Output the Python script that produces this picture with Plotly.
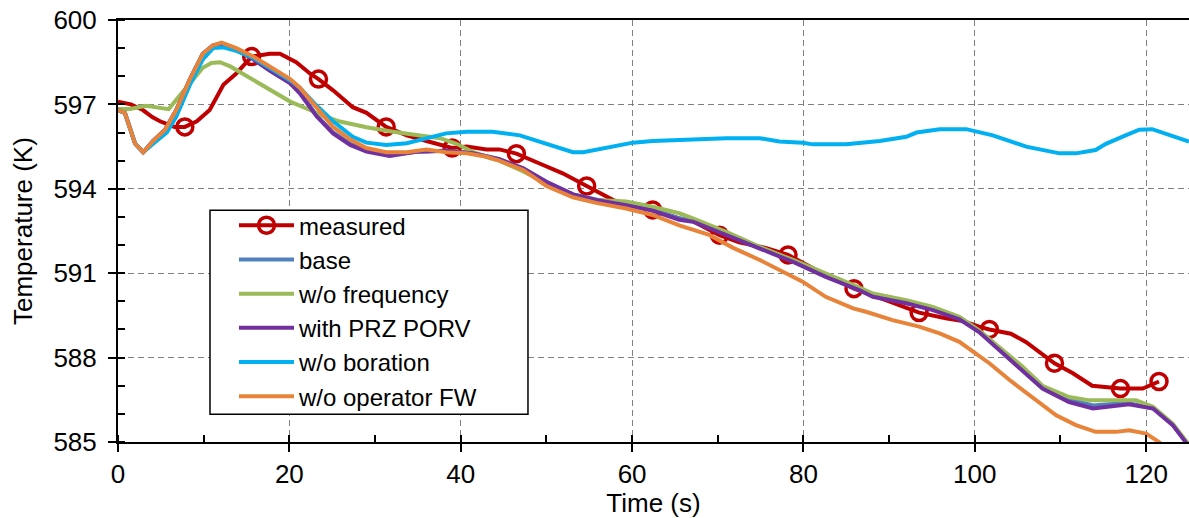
import plotly.graph_objects as go

# ---------------- data ----------------
meas_t = [0, 1.5, 2.9, 4.0, 4.9, 6.6, 7.8, 9.2, 10.7, 12.3, 13.8, 15.6, 17.7, 18.9, 20.8, 22.4,
          23.4, 25.1, 27.4, 29.0, 31.3, 33.7, 36.0, 38.3, 39.0, 40.7, 43.0, 44.5, 46.5, 49.2,
          51.9, 54.7, 57.8, 60.1, 62.4, 65.5, 67.1, 70.2, 72.5, 75.6, 78.2, 81.9, 85.9, 90.0,
          93.5, 96.6, 98.6, 100.5, 101.7, 104.2, 106.0, 109.3, 111.4, 113.7, 117.0, 119.6, 121.5]
meas_T = [597.1, 597.0, 596.8, 596.55, 596.4, 596.2, 596.2, 596.4, 596.8, 597.7, 598.1, 598.7,
          598.8, 598.8, 598.5, 598.1, 597.9, 597.5, 596.9, 596.7, 596.2, 595.9, 595.7, 595.5,
          595.45, 595.5, 595.4, 595.4, 595.25, 594.9, 594.55, 594.1, 593.6, 593.4, 593.25,
          592.95, 592.85, 592.35, 592.1, 591.9, 591.65, 591.05, 590.45, 590.0, 589.6, 589.4,
          589.3, 589.1, 589.0, 588.85, 588.55, 587.8, 587.45, 587.0, 586.9, 586.9, 587.15]
meas_marker_t = [7.8, 15.6, 23.4, 31.3, 39.0, 46.5, 54.7, 62.4, 70.2, 78.2, 85.9, 93.5,
                 101.7, 109.3, 117.0, 121.5]

orange_t = [0, 0.8, 2.0, 2.95, 4.1, 5.5, 6.8, 8.4, 9.9, 11.1, 12.1, 13.8, 15.8, 17.7, 20.1,
            21.2, 23.2, 25.1, 27.1, 29.0, 31.3, 33.7, 36.0, 38.3, 40.7, 43.0, 44.5, 47.3, 50.0,
            53.1, 55.8, 59.3, 62.4, 65.5, 69.0, 71.8, 74.9, 77.2, 79.9, 82.6, 85.8, 87.3, 90.4,
            93.5, 95.9, 98.2, 99.8, 101.7, 104.2, 106.6, 109.5, 111.8, 114.1, 116.5, 118.0,
            120.0, 121.5, 122.5]
orange_T = [596.8, 596.7, 595.6, 595.3, 595.7, 596.1, 596.8, 597.9, 598.8, 599.1, 599.2, 599.0,
            598.7, 598.35, 597.9, 597.6, 596.9, 596.2, 595.75, 595.45, 595.3, 595.3, 595.4,
            595.3, 595.26, 595.14, 595.0, 594.67, 594.1, 593.7, 593.5, 593.3, 593.07, 592.7,
            592.36, 591.9, 591.47, 591.1, 590.7, 590.16, 589.75, 589.63, 589.33, 589.1, 588.86,
            588.56, 588.2, 587.8, 587.17, 586.6, 585.95, 585.6, 585.36, 585.36, 585.42, 585.3,
            585.0, 584.7]

cyan_t = [0, 0.8, 2.0, 2.95, 4.1, 5.7, 6.8, 8.4, 9.9, 11.1, 12.3, 13.8, 15.8, 17.7, 20.1, 21.2,
          23.2, 25.1, 27.4, 29.0, 31.3, 33.7, 36.0, 38.3, 40.7, 43.7, 46.9, 50.0, 53.1, 54.3,
          57.8, 60.1, 62.4, 66.3, 71.0, 74.9, 77.2, 79.9, 81.1, 85.0, 88.9, 92.0, 93.2, 95.9,
          99.0, 102.1, 106.0, 109.9, 111.8, 114.1, 115.3, 117.6, 119.2, 120.7, 122.3, 125.0]
cyan_T = [596.8, 596.7, 595.6, 595.3, 595.6, 596.0, 596.57, 597.7, 598.6, 599.0, 599.03, 598.9,
          598.65, 598.3, 597.85, 597.6, 596.95, 596.4, 595.85, 595.64, 595.56, 595.62, 595.8,
          595.97, 596.03, 596.03, 595.9, 595.6, 595.3, 595.3, 595.5, 595.64, 595.7, 595.76,
          595.8, 595.8, 595.68, 595.64, 595.58, 595.58, 595.7, 595.85, 596.0, 596.12, 596.12,
          595.9, 595.5, 595.26, 595.26, 595.38, 595.6, 595.9, 596.1, 596.12, 595.97, 595.68]

green_t = [0, 1.4, 3.3, 4.9, 5.9, 6.8, 8.4, 9.9, 10.9, 11.9, 13.1, 15.4, 17.7, 20.1, 22.4,
           23.6, 25.9, 29.0, 32.1, 34.8, 37.6, 39.5, 41.5, 43.4, 44.5, 47.3, 50.0, 53.1, 55.8,
           59.3, 62.4, 65.5, 67.1, 71.0, 74.9, 78.8, 82.6, 86.5, 88.1, 92.0, 95.1, 98.2, 100.5,
           103.6, 105.5, 107.9, 111.0, 113.4, 116.5, 118.8, 120.8, 123.1, 124.6, 125.0]
green_T = [596.84, 596.84, 596.95, 596.87, 596.83, 597.16, 597.75, 598.3, 598.47, 598.5,
           598.35, 597.93, 597.5, 597.1, 596.8, 596.63, 596.39, 596.19, 596.03, 595.9, 595.8,
           595.6, 595.3, 595.09, 595.0, 594.62, 594.2, 593.78, 593.6, 593.55, 593.36, 593.13,
           592.95, 592.47, 591.94, 591.47, 591.0, 590.5, 590.28, 590.04, 589.8, 589.45, 588.97,
           588.2, 587.7, 587.0, 586.6, 586.48, 586.48, 586.48, 586.25, 585.65, 585.06, 584.9]

purple_t = [0, 0.8, 2.0, 2.95, 4.1, 5.5, 6.8, 8.4, 9.9, 11.1, 12.1, 13.8, 15.8, 17.7, 20.1,
            21.2, 23.2, 25.1, 27.1, 29.0, 31.7, 34.8, 38.3, 41.4, 44.5, 47.3, 50.0, 53.1, 55.8,
            59.3, 62.4, 65.5, 67.1, 71.0, 74.9, 78.8, 82.6, 86.5, 88.1, 92.0, 95.1, 98.2, 100.5,
            103.6, 105.5, 107.9, 111.0, 113.8, 116.5, 118.0, 120.8, 123.1, 124.6, 125.0]
purple_T = [596.8, 596.7, 595.6, 595.3, 595.7, 596.1, 596.8, 597.9, 598.8, 599.1, 599.15, 598.95,
            598.6, 598.2, 597.75, 597.4, 596.57, 595.97, 595.56, 595.32, 595.17, 595.32, 595.35,
            595.26, 595.05, 594.73, 594.25, 593.8, 593.6, 593.42, 593.22, 592.9, 592.83, 592.36,
            591.88, 591.4, 590.87, 590.4, 590.16, 589.93, 589.69, 589.36, 588.91, 588.09,
            587.55, 586.9, 586.42, 586.19, 586.3, 586.34, 586.19, 585.6, 585.0, 584.85]

base_t = [0, 0.8, 2.0, 2.95, 4.1, 5.5, 6.8, 8.4, 9.9, 11.1, 12.1, 13.8, 15.8, 17.7, 20.1,
          21.2, 23.2, 25.1, 27.1, 29.0, 31.7, 34.8, 38.3, 41.4, 44.5, 47.3, 50.0, 53.1, 55.8,
          59.3, 62.4, 65.5, 67.1, 71.0, 74.9, 78.8, 82.6, 86.5, 88.1, 92.0, 95.1, 98.2, 100.5,
          103.6, 105.5, 107.9, 111.0, 113.8, 116.5, 118.0, 120.8, 123.1, 124.6, 125.0]
base_T = [596.8, 596.7, 595.6, 595.3, 595.7, 596.1, 596.8, 597.9, 598.8, 599.1, 599.15, 598.97,
          598.62, 598.22, 597.78, 597.45, 596.6, 596.0, 595.6, 595.35, 595.2, 595.32, 595.35,
          595.27, 595.05, 594.72, 594.24, 593.8, 593.62, 593.45, 593.26, 592.95, 592.86, 592.4,
          591.9, 591.42, 590.9, 590.43, 590.2, 589.97, 589.72, 589.39, 588.93, 588.12, 587.6,
          586.94, 586.5, 586.3, 586.36, 586.38, 586.2, 585.62, 585.02, 584.87]

names = ["measured", "base", "w/o frequency", "with PRZ PORV", "w/o boration", "w/o operator FW"]
colors = ["#C00000", "#4F81BD", "#9BBB59", "#7030A0", "#00B0F0", "#E8833A"]

x_ticks = [0, 20, 40, 60, 80, 100, 120]
y_ticks = [585, 588, 591, 594, 597, 600]

FONT = "Liberation Sans, Arial, sans-serif"
FS = 26
LFS = 24

fig = go.Figure()

red = colors[0]
marker_style = dict(symbol="circle-open", size=16, color=red, opacity=1,
                    line=dict(color=red, width=3.5))

# measured line
fig.add_trace(go.Scatter(x=meas_t, y=meas_T, mode="lines", showlegend=False,
                         line=dict(color=red, width=4), hoverinfo="skip"))
# measured markers (subset of measured points)
mk_x = [t for t, T in zip(meas_t, meas_T) if t in meas_marker_t]
mk_y = [T for t, T in zip(meas_t, meas_T) if t in meas_marker_t]
fig.add_trace(go.Scatter(x=mk_x, y=mk_y, mode="markers", showlegend=False,
                         marker=marker_style))
# legend proxy for measured
fig.add_trace(go.Scatter(x=[None], y=[None], mode="lines+markers", name=names[0],
                         line=dict(color=red, width=4), marker=marker_style))

series = [(base_t, base_T), (green_t, green_T), (purple_t, purple_T),
          (cyan_t, cyan_T), (orange_t, orange_T)]
for (tx, ty), nm, col in zip(series, names[1:], colors[1:]):
    fig.add_trace(go.Scatter(x=tx, y=ty, name=nm, mode="lines",
                             line=dict(color=col, width=4)))

grid_style = dict(showgrid=True, gridcolor="#808080", gridwidth=1.3, griddash="6px,4px")

# legend frame (plot-area pixel layout: x 118..1189, y 20..441.7)
fig.add_shape(type="rect", xref="paper", yref="paper",
              x0=0.0859, x1=0.3828, y0=0.0657, y1=0.5494,
              line=dict(color="black", width=1.5), fillcolor="white", layer="above")

# y-axis title as annotation for precise placement
fig.add_annotation(text="Temperature (K)", xref="paper", yref="paper",
                   x=-0.0887, y=0.5, xanchor="center", yanchor="middle",
                   textangle=-90, showarrow=False, font=dict(size=FS))

fig.update_layout(
    width=1189, height=518,
    margin=dict(l=118, r=0, t=20, b=76),
    paper_bgcolor="white", plot_bgcolor="white",
    font=dict(family=FONT, size=FS, color="black"),
    showlegend=True,
    legend=dict(x=0.1083, y=0.566, xanchor="left", yanchor="top",
                bgcolor="rgba(0,0,0,0)", borderwidth=0,
                font=dict(size=LFS), itemsizing="trace", itemwidth=55,
                tracegroupgap=0),
    xaxis=dict(range=[0, 125], tickvals=x_ticks, ticks="outside", ticklen=8,
               tickwidth=1.5, tickcolor="black", showline=True, linecolor="black",
               linewidth=2, mirror=True, zeroline=False,
               minor=dict(dtick=10, tick0=0, ticks="inside", ticklen=7,
                          tickcolor="black", tickwidth=1.5, showgrid=False),
               title=dict(text="Time (s)", standoff=0, font=dict(size=FS)),
               **grid_style),
    yaxis=dict(range=[585, 600], tickvals=y_ticks, ticks="outside", ticklen=8,
               tickwidth=1.5, tickcolor="black", showline=True, linecolor="black",
               linewidth=2, zeroline=False, ticklabelstandoff=6,
               minor=dict(dtick=1, tick0=585, ticks="inside", ticklen=7,
                          tickcolor="black", tickwidth=1.5, showgrid=False),
               **grid_style),
)

fig.write_html("out.html")
